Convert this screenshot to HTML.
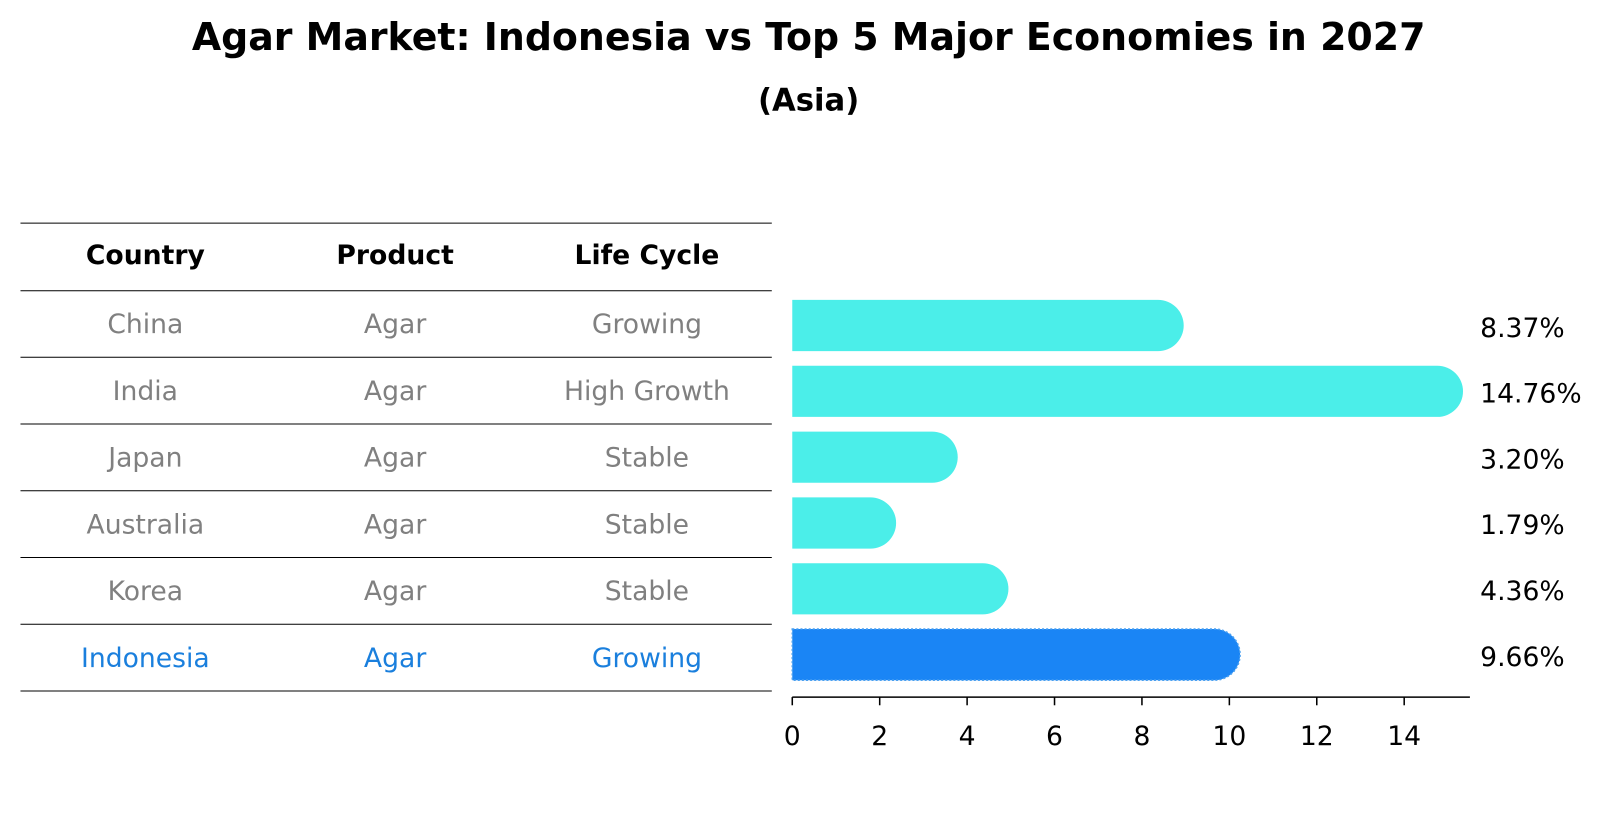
<!DOCTYPE html>
<html><head><meta charset="utf-8"><style>
body{margin:0;background:#fff;font-family:"Liberation Sans","DejaVu Sans",sans-serif}
svg text{font-family:"DejaVu Sans","Liberation Sans",sans-serif}
</style></head><body>
<svg id="c" width="1604" height="823" viewBox="0 0 1567 804" preserveAspectRatio="none">
<text x="790" y="49" text-anchor="middle" font-size="37" font-weight="bold">Agar Market: Indonesia vs Top 5 Major Economies in 2027</text>
<text x="790" y="108" text-anchor="middle" font-size="30" font-weight="bold">(Asia)</text>
<g id="tbl"></g>
<g id="bars"></g>
<g id="axis"></g>
</svg>
<script>
const countries=["China","India","Japan","Australia","Korea","Indonesia"];
const products=["Agar","Agar","Agar","Agar","Agar","Agar"];
const lifeCycles=["Growing","High Growth","Stable","Stable","Stable","Growing"];
const growth=[8.37,14.76,3.20,1.79,4.36,9.66];
const ticks=[0,2,4,6,8,10,12,14];
const NS="http://www.w3.org/2000/svg";
function mk(t,a,p){const e=document.createElementNS(NS,t);for(const k in a)e.setAttribute(k,a[k]);p.appendChild(e);return e;}
const x0=774,unit=42.7;
const xs=v=>x0+v*unit;
const rowY=i=>318+i*64.3;
const tbl=document.getElementById('tbl');
const cols=[142,386,632];
const lineYs=[218,284];
for(let i=0;i<countries.length;i++)lineYs.push(349+i*65.2);
lineYs.forEach((y,i)=>{const l=mk('line',{x1:20,x2:754,y1:y,y2:y,stroke:'#000','stroke-width':1},tbl);
});
["Country","Product","Life Cycle"].forEach((h,j)=>{const t=mk('text',{x:cols[j],y:258,'text-anchor':'middle','font-size':26,'font-weight':'bold'},tbl);t.textContent=h;
});
for(let i=0;i<countries.length;i++){
 const y=(lineYs[i+1]+lineYs[i+2])/2+9;
 const col=i===countries.length-1?'#1a7fdd':'#808080';
 [countries[i],products[i],lifeCycles[i]].forEach((v,j)=>{const t=mk('text',{x:cols[j],y:y,'text-anchor':'middle','font-size':26,fill:col},tbl);t.textContent=v;
 });
}
const bars=document.getElementById('bars');
const h=50,r=25;
growth.forEach((v,i)=>{
 const cy=rowY(i),xe=xs(v),top=cy-h/2;
 const hl=i===growth.length-1;
 const d=`M${x0},${top} H${xe} A${r},${r} 0 0 1 ${xe},${top+h} H${x0} Z`;
 const p=mk('path',{d:d,fill:hl?'#1a85f5':'#4beee9',stroke:hl?'#4aa0f0':'none','stroke-width':hl?1.5:0,'stroke-dasharray':hl?'2 2':''},bars);
 
 
 const t=mk('text',{x:1446,y:cy+11,'font-size':26},bars);t.textContent=v.toFixed(2)+'%';
 
});
const ax=document.getElementById('axis');
mk('line',{x1:x0,x2:1436,y1:681,y2:681,stroke:'#000','stroke-width':1.5},ax);
ticks.forEach(tv=>{const x=xs(tv);mk('line',{x1:x,x2:x,y1:681,y2:689,stroke:'#000','stroke-width':1.5},ax);
 const t=mk('text',{x:x,y:728,'text-anchor':'middle','font-size':26},ax);t.textContent=tv;
 });
</script>
</body></html>
